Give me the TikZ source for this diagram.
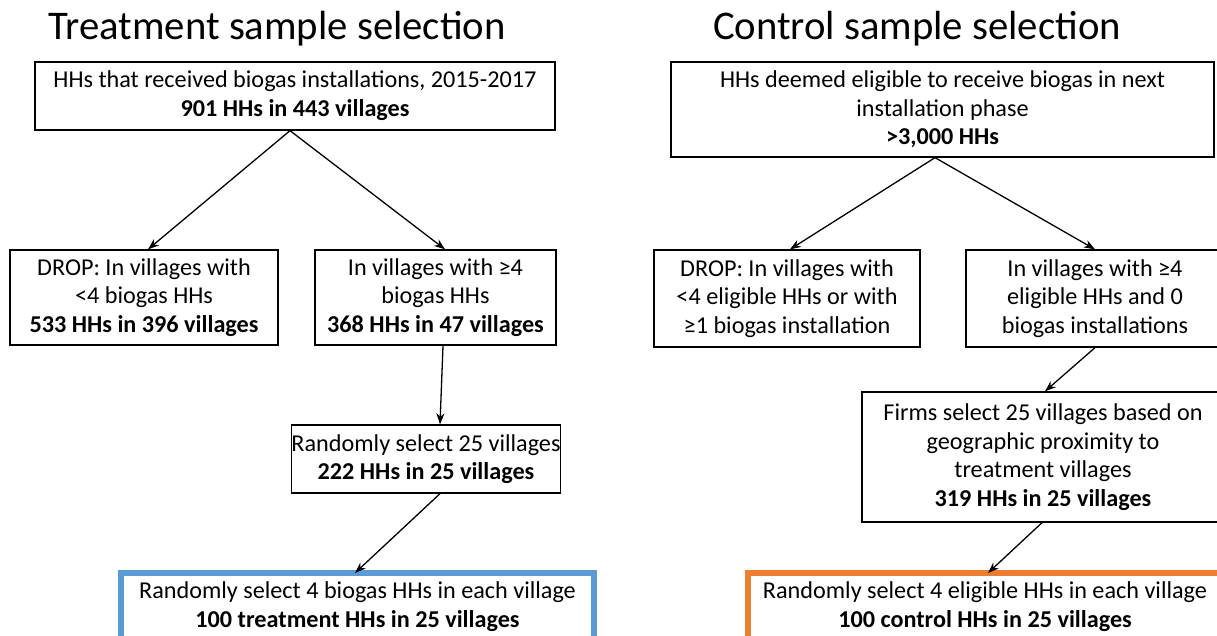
\documentclass[tikz,border=0pt]{standalone}
\usepackage{fontspec}
\setmainfont{Carlito}
\usetikzlibrary{arrows.meta}
\definecolor{tblue}{HTML}{5B9BD5}
\definecolor{corange}{HTML}{ED7D31}
\tikzset{
  box/.style={draw=black, line width=1.3pt, align=center, inner sep=0pt,
    font=\fontsize{24.2}{28.7}\selectfont},
  finalbox/.style={box, line width=6pt, inner ysep=9pt, anchor=north},
  ttl/.style={font=\fontsize{40.7}{44}\selectfont, inner sep=0pt},
  conn/.style={line width=1.3pt, -{Stealth[length=11pt,width=8pt]}},
}
\begin{document}
\begin{tikzpicture}[x=1pt,y=-1pt]
\useasboundingbox[fill=white] (0,0) rectangle (1217,636);
\clip (0,0) rectangle (1217,636);

% titles
\node[ttl, anchor=base] (tt) at (277,40) {Treatment sample selection};
\node[ttl, anchor=base] (ct) at (917,40) {Control sample selection};

% treatment
\node[box, minimum width=520, minimum height=68] (t1) at (295,96)
  {HHs that received biogas installations, 2015-2017\\\textbf{901 HHs in 443 villages}};
\node[box, minimum width=268, minimum height=95] (t2) at (144,297.5)
  {DROP: In villages with\\<4 biogas HHs\\\textbf{533 HHs in 396 villages}};
\node[box, minimum width=241, minimum height=95] (t3) at (435.5,297.5)
  {In villages with ≥4\\biogas HHs\\\textbf{368 HHs in 47 villages}};
\node[box, minimum width=268, minimum height=68] (t4) at (426,459)
  {Randomly select 25 villages\\\textbf{222 HHs in 25 villages}};
\node[finalbox, draw=tblue, minimum width=473] (t5) at (357.5,570)
  {Randomly select 4 biogas HHs in each village\\\textbf{100 treatment HHs in 25 villages}\\[6pt]};

% control
\node[box, minimum width=543, minimum height=95] (c1) at (942.5,109.5)
  {HHs deemed eligible to receive biogas in next\\installation phase\\\textbf{>3,000 HHs}};
\node[box, minimum width=266, minimum height=97] (c2) at (787,298.5)
  {DROP: In villages with\\<4 eligible HHs or with\\≥1 biogas installation};
\node[box, minimum width=258, minimum height=97] (c3) at (1095,298.5)
  {In villages with ≥4\\eligible HHs and 0\\biogas installations};
\node[box, minimum width=362, minimum height=130] (c4) at (1043,457)
  {Firms select 25 villages based on\\geographic proximity to\\treatment villages\\\textbf{319 HHs in 25 villages}};
\node[finalbox, draw=corange, minimum width=474] (c5) at (985,570)
  {Randomly select 4 eligible HHs in each village\\\textbf{100 control HHs in 25 villages}\\[6pt]};

% connectors treatment
\draw[conn] ([xshift=-5]t1.south) -- ([xshift=4]t2.north);
\draw[conn] ([xshift=-5]t1.south) -- ([xshift=9.5]t3.north);
\draw[conn] ([xshift=7.5]t3.south) -- ([xshift=14]t4.north);
\draw[conn] ([xshift=14]t4.south) -- ([xshift=-2.5,yshift=-3]t5.north);

% connectors control
\draw[conn] ([xshift=-7.5]c1.south) -- ([xshift=3]c2.north);
\draw[conn] ([xshift=-7.5]c1.south) -- (c3.north);
\draw[conn] (c3.south) -- ([xshift=2]c4.north);
\draw[conn] ([xshift=-1]c4.south) -- ([xshift=3,yshift=-3]c5.north);
\end{tikzpicture}
\end{document}
